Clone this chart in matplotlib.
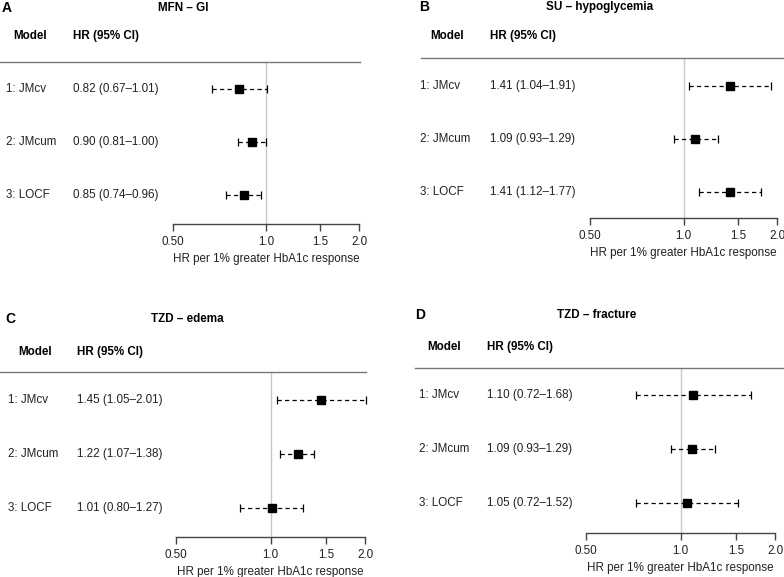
import matplotlib
matplotlib.use("Agg")
import matplotlib.pyplot as plt
from matplotlib.ticker import NullLocator

plt.rcParams["font.family"] = ["Liberation Sans", "DejaVu Sans"]
plt.rcParams["font.size"] = 8.4

W, H = 784, 577
FS = 8.4

models = ["1: JMcv", "2: JMcum", "3: LOCF"]
letters = ["A", "B", "C", "D"]
titles = ["MFN – GI", "SU – hypoglycemia", "TZD – edema", "TZD – fracture"]

hr_a = [0.82, 0.90, 0.85]
lo_a = [0.67, 0.81, 0.74]
hi_a = [1.01, 1.00, 0.96]

hr_b = [1.41, 1.09, 1.41]
lo_b = [1.04, 0.93, 1.12]
hi_b = [1.91, 1.29, 1.77]

hr_c = [1.45, 1.22, 1.01]
lo_c = [1.05, 1.07, 0.80]
hi_c = [2.01, 1.38, 1.27]

hr_d = [1.10, 1.09, 1.05]
lo_d = [0.72, 0.93, 0.72]
hi_d = [1.68, 1.29, 1.52]

xticks = [0.5, 1.0, 1.5, 2.0]
xticklabels = ["0.50", "1.0", "1.5", "2.0"]

# pixel layout of each panel
layout = [
    dict(x05=173, x20=359, ytop=62, yax=224, rows=(89, 195), hl=(0, 360),
         letter=(2, 8), title=(183, 8), head_y=36, col1=13, col2=73, lab=6, val=73),
    dict(x05=590, x20=777, ytop=58, yax=218, rows=(86, 192), hl=(421, 784),
         letter=(419, 7), title=(600, 7), head_y=36, col1=430, col2=490, lab=420, val=490),
    dict(x05=176, x20=365, ytop=372, yax=537, rows=(400, 508), hl=(0, 366),
         letter=(5, 319), title=(187, 319), head_y=352, col1=18, col2=77, lab=8, val=77),
    dict(x05=586, x20=775, ytop=368, yax=533, rows=(395, 503), hl=(415, 784),
         letter=(415, 315), title=(597, 315), head_y=347, col1=427, col2=487, lab=419, val=487),
]

data = [(hr_a, lo_a, hi_a), (hr_b, lo_b, hi_b), (hr_c, lo_c, hi_c), (hr_d, lo_d, hi_d)]

fig = plt.figure(figsize=(W / 100, H / 100), dpi=100)


def fx(px):
    return px / W


def fy(py):
    return 1 - py / H


for p, (hr, lo, hi) in enumerate(data):
    L = layout[p]
    r1, r3 = L["rows"]
    step = (r3 - r1) / 2

    def idx(py):
        return 1 + (py - r1) / step

    ax = fig.add_axes([fx(L["x05"]), fy(L["yax"]), (L["x20"] - L["x05"]) / W,
                       (L["yax"] - L["ytop"]) / H])
    ax.set_xscale("log")
    ax.set_xlim(0.5, 2.0)
    ax.set_ylim(idx(L["yax"]), idx(L["ytop"]))
    for s in ["top", "left", "right"]:
        ax.spines[s].set_visible(False)
    ax.spines["bottom"].set_color("#444444")
    ax.spines["bottom"].set_linewidth(1.0)
    ax.set_yticks([])
    ax.set_xticks(xticks)
    ax.set_xticklabels(xticklabels)
    ax.xaxis.set_minor_locator(NullLocator())
    ax.tick_params(axis="x", length=5, width=1.0, color="#444444", pad=3.5,
                   labelsize=FS, labelcolor="#222222")
    ax.set_xlabel("HR per 1% greater HbA1c response", fontsize=FS, color="#222222",
                  labelpad=3.5)
    ax.patch.set_visible(False)

    ax.axvline(1.0, color="#c8c8c8", lw=1.0, zorder=0)

    y = [1, 2, 3]
    err = [[h - l for h, l in zip(hr, lo)], [u - h for h, u in zip(hr, hi)]]
    eb = ax.errorbar(hr, y, xerr=err, fmt="s", color="black", ms=5.5, capsize=3.2,
                     elinewidth=0.9, capthick=0.9)
    eb[2][0].set_linestyle((0, (3.4, 2.6)))
    eb[0].set_clip_on(False)
    for c in eb[1]:
        c.set_clip_on(False)
    eb[2][0].set_clip_on(False)

    # header rule
    fig.add_artist(plt.Line2D([fx(L["hl"][0]), fx(L["hl"][1])],
                              [fy(L["ytop"]), fy(L["ytop"])],
                              color="#777777", lw=1.0))

    fig.text(fx(L["letter"][0]), fy(L["letter"][1]), letters[p], fontsize=10,
             fontweight="bold", va="center", ha="left")
    fig.text(fx(L["title"][0]), fy(L["title"][1]), titles[p], fontsize=FS,
             fontweight="bold", va="center", ha="center")
    fig.text(fx(L["col1"]), fy(L["head_y"]), "Model", fontsize=FS,
             fontweight="bold", va="center", ha="left")
    fig.text(fx(L["col2"]), fy(L["head_y"]), "HR (95% CI)", fontsize=FS,
             fontweight="bold", va="center", ha="left")

    for i in range(3):
        ry = r1 + i * step
        fig.text(fx(L["lab"]), fy(ry), models[i], fontsize=FS, va="center",
                 ha="left", color="#222222")
        fig.text(fx(L["val"]), fy(ry), f"{hr[i]:.2f} ({lo[i]:.2f}–{hi[i]:.2f})",
                 fontsize=FS, va="center", ha="left", color="#222222")

fig.savefig("out.png", dpi=100)
